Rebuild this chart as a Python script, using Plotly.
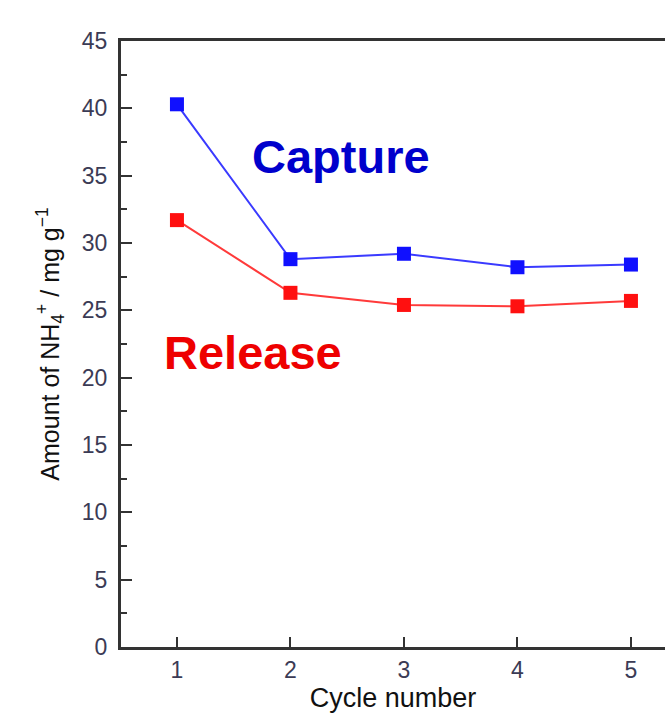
import plotly.graph_objects as go

cycles = [1, 2, 3, 4, 5]
capture = [40.3, 28.8, 29.2, 28.2, 28.4]
release = [31.7, 26.3, 25.4, 25.3, 25.7]
y_ticks = [0, 5, 10, 15, 20, 25, 30, 35, 40, 45]

fig = go.Figure()
fig.add_trace(go.Scatter(x=cycles, y=capture, mode="lines+markers",
                         line=dict(color="#3a3aff", width=2),
                         marker=dict(symbol="square", size=14, color="#1010ff"),
                         showlegend=False))
fig.add_trace(go.Scatter(x=cycles, y=release, mode="lines+markers",
                         line=dict(color="#ff3a3a", width=2),
                         marker=dict(symbol="square", size=14, color="#ff1010"),
                         showlegend=False))

fig.add_annotation(x=2.445, y=36.45, xref="x", yref="y", text="<b>Capture</b>",
                   showarrow=False, font=dict(family="Liberation Sans, Arial", size=47, color="#0000cc"))
fig.add_annotation(x=1.67, y=21.9, xref="x", yref="y", text="<b>Release</b>",
                   showarrow=False, font=dict(family="Liberation Sans, Arial", size=47, color="#ee0000"))

fig.update_layout(
    width=665, height=716,
    margin=dict(l=121, r=0, t=41, b=69),
    paper_bgcolor="white", plot_bgcolor="white",
    font=dict(family="Liberation Sans, Arial", color="#000"),
    xaxis=dict(range=[0.507, 5.3], tickvals=cycles, ticks="inside", ticklen=10, tickwidth=2,
               tickcolor="#333", showline=True, linecolor="#333", linewidth=3, mirror=True,
               showgrid=False, zeroline=False,
               tickfont=dict(size=23, color="#3b3b55", family="Liberation Sans, Arial"),
               title=dict(text="Cycle number", font=dict(size=27, color="#111"), standoff=6)),
    yaxis=dict(range=[0, 45], tickvals=y_ticks, ticks="inside", ticklen=11, tickwidth=2,
               tickcolor="#333", showline=True, linecolor="#333", linewidth=3, mirror=False,
               showgrid=False, zeroline=False, ticklabelstandoff=6,
               minor=dict(dtick=2.5, ticks="inside", ticklen=6, tickwidth=2, tickcolor="#333", showgrid=False),
               tickfont=dict(size=23, color="#3b3b55", family="Liberation Sans, Arial"),
               title=dict(text="Amount of NH<sub>4</sub><sup>+</sup> / mg g<sup>−1</sup>",
                          font=dict(size=25, color="#111"), standoff=16)),
)

fig.write_html("out.html")
